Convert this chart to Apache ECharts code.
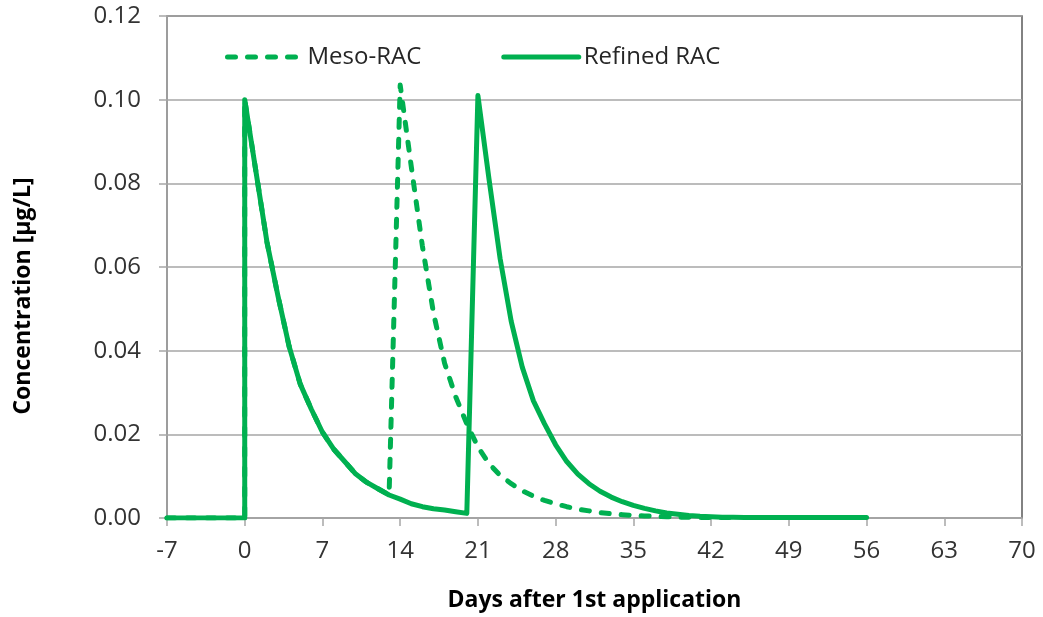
<!DOCTYPE html>
<html>
<head>
<meta charset="utf-8">
<script src="https://cdn.jsdelivr.net/npm/echarts@6/dist/echarts.min.js"></script>
<style>
  html, body { margin: 0; padding: 0; background: #fff; }
  #chart { width: 1043px; height: 617px; }
</style>
</head>
<body>
<div id="chart"></div>
<script>
// concentration over time
const refinedDays = [-7, 0, 0, 1, 2, 3, 4, 5, 6, 7, 8, 9, 10, 11, 12, 13, 14, 15, 16, 17, 18, 19, 20,
  21, 22, 23, 24, 25, 26, 27, 28, 29, 30, 31, 32, 33, 34, 35, 36, 37, 38, 39, 40,
  41, 42, 43, 44, 45, 46, 47, 48, 49, 50, 51, 52, 53, 54, 55, 56];
const refinedConc = [0, 0, 0.100, 0.083, 0.066, 0.053, 0.041, 0.032, 0.026, 0.0205, 0.0165, 0.0135, 0.0105, 0.0085, 0.007, 0.0055, 0.0045, 0.0034, 0.0027, 0.0022, 0.0019, 0.0015, 0.0011,
  0.101, 0.081, 0.062, 0.047, 0.036, 0.028, 0.0225, 0.0175, 0.0135, 0.0105, 0.0082, 0.0064, 0.005, 0.0039, 0.003, 0.0023, 0.0017, 0.0012, 0.0009, 0.0006,
  0.0004, 0.0003, 0.0002, 0.00015, 0.0001, 0.0001, 0.0001, 0.0001, 0.0001, 0.0001, 0.0001, 0.0001, 0.0001, 0.0001, 0.0001, 0.0001];

const mesoDays = [-7, 0, 0, 1, 2, 3, 4, 5, 6, 7, 8, 9, 10, 11, 12, 13,
  14, 15, 16, 17, 18, 19, 20, 21, 22, 23, 24, 25, 26, 27, 28, 29, 30, 31, 32, 33, 34, 35, 36, 37, 38, 39, 40, 41, 42, 43, 44];
const mesoConc = [0, 0, 0.100, 0.083, 0.066, 0.053, 0.041, 0.032, 0.026, 0.0205, 0.0165, 0.0135, 0.0105, 0.0085, 0.007, 0.0055,
  0.1035, 0.084, 0.065, 0.049, 0.037, 0.029, 0.0225, 0.017, 0.013, 0.0102, 0.0082, 0.0065, 0.0052, 0.0042, 0.0034, 0.0027, 0.0021, 0.0017, 0.0013, 0.001, 0.0008, 0.0006, 0.0005, 0.0004, 0.0003, 0.0002, 0.0002, 0.0001, 0.0001, 0.0001, 0.0001];

const seriesNames = ['Meso-RAC', 'Refined RAC'];
const green = '#00B050';
const font = 'Open Sans';

const chart = echarts.init(document.getElementById('chart'));

const pairs = (xs, ys) => xs.map((d, i) => [d, ys[i]]);

chart.setOption({
  animation: false,
  backgroundColor: '#fff',
  grid: {
    left: 167, right: 21, top: 16, bottom: 99,
    show: true, borderColor: '#595959', borderWidth: 1.5
  },
  legend: {
    left: 220, top: 40,
    itemWidth: 75, itemHeight: 10, itemGap: 80,
    itemStyle: {opacity: 0},
    lineStyle: {width: 5, cap: 'round'},
    textStyle: {fontFamily: font, fontSize: 24, color: '#262626'},
    data: seriesNames
  },
  xAxis: {
    type: 'value',
    min: -7, max: 70, interval: 7,
    name: 'Days after 1st application',
    nameLocation: 'middle',
    nameGap: 71,
    nameTextStyle: {fontFamily: font, fontSize: 23, fontWeight: 'bold', color: '#000'},
    axisLine: {show: true, onZero: false, lineStyle: {color: '#A6A6A6', width: 1.5}},
    axisTick: {show: true, inside: false, length: 8, lineStyle: {color: '#A6A6A6', width: 1.5}},
    axisLabel: {fontFamily: font, fontSize: 24, color: '#333', margin: 21},
    splitLine: {show: false}
  },
  yAxis: {
    type: 'value',
    min: 0, max: 0.12, interval: 0.02,
    axisLine: {show: true, onZero: false, lineStyle: {color: '#A6A6A6', width: 1.5}},
    axisTick: {show: true, inside: false, length: 8, lineStyle: {color: '#A6A6A6', width: 1.5}},
    axisLabel: {fontFamily: font, fontSize: 24, color: '#333', margin: 26, formatter: v => v.toFixed(2)},
    splitLine: {show: true, lineStyle: {color: '#A6A6A6', width: 1.5}}
  },
  graphic: [{
    type: 'text',
    x: 23, y: 296,
    rotation: Math.PI / 2,
    style: {
      text: 'Concentration [µg/L]',
      fontFamily: font, fontSize: 23, fontWeight: 'bold', fill: '#000',
      align: 'center', verticalAlign: 'middle'
    }
  }],
  series: [
    {
      name: seriesNames[0],
      type: 'line',
      symbol: 'none',
      data: pairs(mesoDays, mesoConc),
      itemStyle: {color: green},
      lineStyle: {color: green, width: 5, type: [8, 12], cap: 'round', join: 'round'}
    },
    {
      name: seriesNames[1],
      type: 'line',
      symbol: 'none',
      data: pairs(refinedDays, refinedConc),
      itemStyle: {color: green},
      lineStyle: {color: green, width: 5, cap: 'round', join: 'round'}
    }
  ]
});
</script>
</body>
</html>
